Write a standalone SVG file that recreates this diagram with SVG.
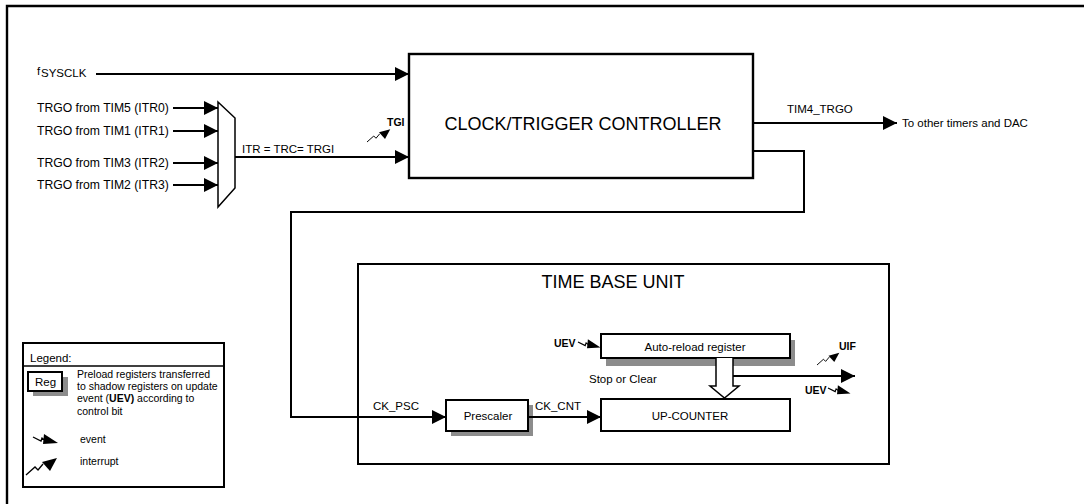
<svg xmlns="http://www.w3.org/2000/svg" width="1084" height="504" viewBox="0 0 1084 504">
<style>
text { font-family: "Liberation Sans", Arial, Helvetica, sans-serif; fill: #000; font-size: 11.5px; }
.box { fill: #fff; stroke: #000; stroke-width: 2; }
.big { stroke-width: 2.4; }
.shadow { fill: #8c8c8c; stroke: none; }
.wire { fill: none; stroke: #000; stroke-width: 2; }
.arrow { marker-end: url(#arr); }
.sym { fill: none; stroke: #000; stroke-width: 1.3; }
.title { font-size: 18px; }
.lbl { font-size: 12.2px; }
.b { font-weight: bold; font-size: 10.5px; }
.leg { font-size: 10.5px; }
.mid { text-anchor: middle; }
</style>
<defs>
<marker id="arr" markerUnits="userSpaceOnUse" viewBox="0 0 14 14" markerWidth="14" markerHeight="14" refX="14" refY="7" orient="auto">
<path d="M0,0 L14,7 L0,14 z" fill="#000"/>
</marker>
<g id="ev"><path class="sym" d="M0,0 L8,4 L9,1 L13,4"/><path d="M11,-3 L25,6 L10,7 z" fill="#000"/></g>
<g id="irq"><path class="sym" d="M0,0 L9,-8 L12,-5 L17,-11"/><path d="M16,-13 L31,-17 L24,-4 z" fill="#000"/></g>
</defs>

<rect width="1084" height="504" fill="#fff"/>
<path d="M7,504 V6 H1084" fill="none" stroke="#000" stroke-width="2.4"/>

<g id="inputs">
<text x="37" y="75" font-size="12">f</text><text x="41" y="77" font-size="9.2">SYSCLK</text>
<text class="lbl" x="37" y="112">TRGO from TIM5 (ITR0)</text>
<text class="lbl" x="37" y="135">TRGO from TIM1 (ITR1)</text>
<text class="lbl" x="37" y="167">TRGO from TIM3 (ITR2)</text>
<text class="lbl" x="37" y="189">TRGO from TIM2 (ITR3)</text>
</g>

<g id="mux">
<path d="M218,102 L235,118 V188 L218,207 Z" fill="#fff" stroke="#000" stroke-width="1.5"/>
</g>

<g id="clock-trigger-controller">
<rect class="box big" x="409" y="54" width="344" height="124"/>
<text class="title mid" x="583" y="130">CLOCK/TRIGGER CONTROLLER</text>
</g>

<g id="time-base-unit">
<rect class="box" x="358" y="264" width="531" height="200"/>
<text class="title mid" x="613" y="288">TIME BASE UNIT</text>
</g>

<g id="auto-reload-register">
<rect class="shadow" x="606" y="340" width="189" height="26"/>
<rect class="box" x="601" y="334" width="189" height="24"/>
<text class="mid" x="695" y="351">Auto-reload register</text>
</g>

<g id="up-counter">
<rect class="box" x="601" y="399" width="189" height="32"/>
<text class="mid" x="690" y="420" font-size="12">UP-COUNTER</text>
</g>

<g id="prescaler">
<rect class="shadow" x="451" y="405" width="82" height="31"/>
<rect class="box" x="446" y="400" width="82" height="31"/>
<text class="mid" x="488" y="420">Prescaler</text>
</g>

<g id="connectors">
<path class="wire arrow" d="M96,74 H409"/>
<path class="wire arrow" d="M173,108 H218"/>
<path class="wire arrow" d="M173,131 H218"/>
<path class="wire arrow" d="M173,163 H218"/>
<path class="wire arrow" d="M173,185 H218"/>
<path class="wire arrow" d="M235,157 H409"/>
<path class="wire arrow" d="M753,123 H897"/>
<path class="wire arrow" d="M753,151 H804 V212 H291 V417 H446"/>
<path class="wire arrow" d="M528,417 H601"/>
<path d="M716,358 V386 H710 L724.5,398 L739,386 H733 V358" fill="#fff" stroke="#000" stroke-width="1.5"/>
<path class="wire arrow" d="M733,376 H855"/>
</g>

<g id="labels">
<text x="242" y="153" font-size="11">ITR = TRC= TRGI</text>
<use href="#irq" transform="translate(367,142) scale(0.75)"/>
<text class="b" x="387" y="126">TGI</text>
<text x="787" y="113" font-size="11">TIM4_TRGO</text>
<text x="902" y="127" font-size="13">To other timers and DAC</text>
<text x="373" y="410" font-size="12">CK_PSC</text>
<text x="535" y="410" font-size="12">CK_CNT</text>
<text x="589" y="383">Stop or Clear</text>
<text class="b" x="554" y="347">UEV</text>
<use href="#ev" transform="translate(578,342) scale(0.9)"/>
<use href="#irq" transform="translate(817,365) scale(0.72)"/>
<text class="b" x="839" y="350">UIF</text>
<text class="b" x="805" y="394">UEV</text>
<use href="#ev" transform="translate(828,388) scale(0.9)"/>
</g>

<g id="legend">
<rect x="23" y="343" width="201" height="144" fill="#fff" stroke="#000" stroke-width="2"/>
<line x1="23" y1="366" x2="224" y2="366" stroke="#000" stroke-width="1.5"/>
<text x="30" y="362">Legend:</text>
<rect class="shadow" x="33" y="377" width="35" height="19"/>
<rect class="box" x="28" y="372" width="34" height="19"/>
<text x="35" y="386" font-size="11">Reg</text>
<text class="leg" x="77" y="378">Preload registers transferred</text>
<text class="leg" x="77" y="390">to shadow registers on update</text>
<text class="leg" x="77" y="402">event (<tspan font-weight="bold">UEV)</tspan> according to</text>
<text class="leg" x="77" y="415">control bit</text>
<use href="#ev" transform="translate(33,437)"/>
<text class="leg" x="80" y="443">event</text>
<use href="#irq" transform="translate(26,475)"/>
<text class="leg" x="80" y="465">interrupt</text>
</g>
</svg>
